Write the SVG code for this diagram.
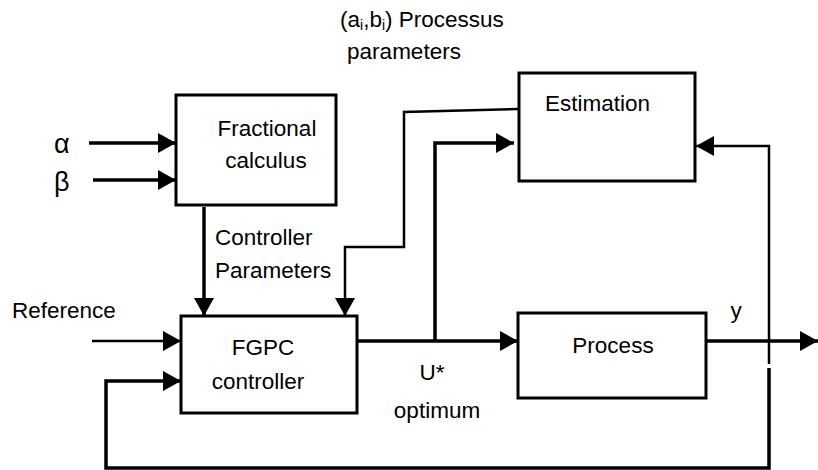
<svg xmlns="http://www.w3.org/2000/svg" width="818" height="470" viewBox="0 0 818 470">
<style>
.box{fill:#fff;stroke:#000;stroke-width:3}
.t{font-family:"Liberation Sans",Arial,sans-serif;font-size:22.5px;fill:#000}
.g{font-size:27px}
.c{text-anchor:middle}
.w{fill:none;stroke:#000;stroke-width:3.5}
.n{fill:none;stroke:#000;stroke-width:2.5}
</style>
<defs>
<marker id="ah" markerUnits="userSpaceOnUse" markerWidth="18" markerHeight="20" refX="18" refY="10" orient="auto">
<path d="M0,0 L18,10 L0,20 z" fill="#000"/>
</marker>
</defs>
<rect width="818" height="470" fill="#fff"/>
<g id="connectors">
<line class="w" x1="89" y1="143" x2="176" y2="143" marker-end="url(#ah)"/>
<line class="w" x1="93" y1="180" x2="176" y2="180" marker-end="url(#ah)"/>
<line class="w" x1="204" y1="207" x2="204" y2="316" marker-end="url(#ah)"/>
<polyline class="n" points="518,109 404,112 404,247 345,247 345,316" marker-end="url(#ah)"/>
<line class="n" x1="92" y1="341" x2="181" y2="341" marker-end="url(#ah)"/>
<line class="w" x1="355" y1="341" x2="518" y2="341" marker-end="url(#ah)"/>
<polyline class="w" points="435,341 435,143 514,143" marker-end="url(#ah)"/>
<line class="w" x1="706" y1="341" x2="818" y2="341" marker-end="url(#ah)"/>
<polyline class="n" points="769,364 769,146 696,146" marker-end="url(#ah)"/>
<polyline class="w" points="769,368 769,468 106,468 106,381 181,381" marker-end="url(#ah)"/>
</g>
<g id="title">
<text class="t" x="340" y="27">(a<tspan font-size="14" dy="3">i</tspan><tspan dy="-3">,b</tspan><tspan font-size="14" dy="3">i</tspan><tspan dy="-3">) Processus</tspan></text>
<text class="t c" x="404" y="59">parameters</text>
</g>
<g id="alpha"><text class="t g" x="54" y="153">α</text></g>
<g id="beta"><text class="t g" x="54" y="191">β</text></g>
<g id="fractional">
<rect class="box" x="176" y="95" width="160" height="110"/>
<text class="t c" x="267" y="136">Fractional</text>
<text class="t c" x="266" y="168">calculus</text>
</g>
<g id="controller-params">
<text class="t" x="215" y="245">Controller</text>
<text class="t" x="215" y="278">Parameters</text>
</g>
<g id="estimation">
<rect class="box" x="519" y="73" width="176" height="108"/>
<text class="t" x="545" y="111">Estimation</text>
</g>
<g id="reference"><text class="t" x="12" y="318">Reference</text></g>
<g id="fgpc">
<rect class="box" x="181" y="316" width="176" height="97"/>
<text class="t c" x="263" y="355">FGPC</text>
<text class="t c" x="258" y="389">controller</text>
</g>
<g id="process">
<rect class="box" x="518" y="313" width="188" height="85"/>
<text class="t c" x="613" y="353">Process</text>
</g>
<g id="labels">
<text class="t c" x="736" y="318">y</text>
<text class="t c" x="432" y="380">U*</text>
<text class="t c" x="437" y="418">optimum</text>
</g>
</svg>
